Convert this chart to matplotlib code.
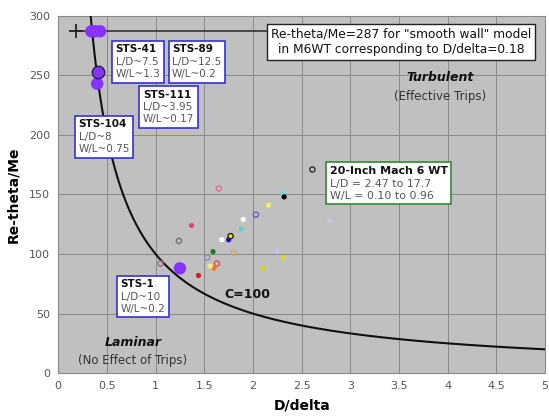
import numpy as np
import matplotlib.pyplot as plt
from matplotlib.offsetbox import TextArea, VPacker, AnnotationBbox

# C=100 transition curve: Re-theta/Me = C / (D/delta)
curve_c = 100
curve_x = np.linspace(0.333, 5.0, 400)

# flight data (STS), big purple dots
sts_x = [0.34, 0.38, 0.43, 0.40, 1.25]
sts_y = [287, 287, 287, 243, 88]
sts_edge_x = [0.41]
sts_edge_y = [253]

# smooth wall reference point
ref_x = [0.18]
ref_y = [287]

# 20-inch Mach 6 WT, filled markers
wt_fill_x = [1.37, 1.59, 1.68, 1.75, 2.31, 2.32, 2.16, 1.90, 1.88, 1.60, 1.56,
             2.10, 1.44, 2.31, 2.25, 2.79]
wt_fill_y = [124, 102, 112, 112, 151, 148, 141, 129, 121, 88, 90,
             88, 82, 97, 102, 128]
wt_fill_c = ['#e0457a', '#1a7a2a', '#ffffff', '#1010d0', '#70d8e8', '#000000',
             '#f0f060', '#ffffff', '#60d0d0', '#f08020', '#f0f080',
             '#c8d820', '#d02020', '#d8d840', '#c8c0f0', '#c8c8e0']

# 20-inch Mach 6 WT, open markers
wt_open_x = [2.61, 1.65, 2.03, 1.77, 1.24, 1.80, 1.53, 1.63, 1.05]
wt_open_y = [171, 155, 133, 115, 111, 101, 97, 92, 92]
wt_open_c = ['#303030', '#e07090', '#6060c0', '#202000', '#707070',
             '#e0a070', '#9090b0', '#e05050', '#a07080']
wt_open_face = ['none', 'none', 'none', '#f0f000', 'none',
                'none', 'none', 'none', 'none']

plt.rcParams['font.family'] = ['DejaVu Sans']
fig = plt.figure(figsize=(5.49, 4.16), dpi=100)
ax = fig.add_axes([0.106, 0.103, 0.887, 0.859])
ax.set_facecolor('#c0c0c0')

ax.plot(curve_x, curve_c / curve_x, color='#111111', lw=1.5, zorder=3)
ax.plot([0.18, 2.2], [287, 287], color='#333333', lw=1.2, zorder=2)
ax.scatter(ref_x, ref_y, marker='+', s=90, color='#222222', lw=1.3, zorder=4)

ax.scatter(wt_fill_x, wt_fill_y, s=14, c=wt_fill_c, edgecolors='none', zorder=4)
ax.scatter(wt_open_x, wt_open_y, s=14, facecolors=wt_open_face,
           edgecolors=wt_open_c, linewidths=1.0, zorder=4)

ax.scatter(sts_x, sts_y, s=80, color='#8833ff', edgecolors='none', zorder=5)
ax.scatter(sts_edge_x, sts_edge_y, s=80, color='#8833ff', edgecolors='#222244',
           linewidths=1.0, zorder=5)

ax.set_xlim(0, 5)
ax.set_ylim(0, 300)
ax.set_xticks(np.arange(0, 5.01, 0.5))
ax.set_xticklabels(['0', '0.5', '1', '1.5', '2', '2.5', '3', '3.5', '4', '4.5', '5'])
ax.set_yticks(np.arange(0, 301, 50))
ax.grid(True, color='#8a8a8a', lw=0.7)
ax.set_axisbelow(True)
ax.tick_params(length=0, labelsize=8, labelcolor='#555555', pad=6)
for s in ax.spines.values():
    s.set_color('#888888')

ax.set_xlabel('D/delta', fontsize=10, fontweight='bold', labelpad=5)
ax.set_ylabel('Re-theta/Me', fontsize=10, fontweight='bold', labelpad=6)


def info_box(x, y, title, lines, edge='#3333cc', fs=7.5):
    head = TextArea(title, textprops=dict(fontsize=fs, fontweight='bold',
                                          color='#111111'))
    body = TextArea('\n'.join(lines), textprops=dict(fontsize=fs, color='#555555',
                                                     linespacing=1.25))
    pack = VPacker(children=[head, body], align='left', pad=0, sep=2)
    ab = AnnotationBbox(pack, (x, y), box_alignment=(0, 1), frameon=True,
                        pad=0.25, zorder=6,
                        bboxprops=dict(boxstyle='square,pad=0.25', fc='white',
                                       ec=edge, lw=1.2))
    ax.add_artist(ab)


info_box(0.59, 276, 'STS-41', ['L/D~7.5', 'W/L~1.3'])
info_box(1.17, 276, 'STS-89', ['L/D~12.5', 'W/L~0.2'])
info_box(0.87, 238, 'STS-111', ['L/D~3.95', 'W/L~0.17'])
info_box(0.21, 213, 'STS-104', ['L/D~8', 'W/L~0.75'])
info_box(0.64, 79, 'STS-1', ['L/D~10', 'W/L~0.2'])
info_box(2.79, 174, '20-Inch Mach 6 WT', ['L/D = 2.47 to 17.7', 'W/L = 0.10 to 0.96'],
         edge='#338833', fs=7.9)

ax.text(3.52, 278, 'Re-theta/Me=287 for "smooth wall" model\nin M6WT corresponding to D/delta=0.18',
        fontsize=8.8, ha='center', va='center', color='#111111', linespacing=1.25, zorder=6,
        bbox=dict(boxstyle='square,pad=0.3', fc='white', ec='#222222', lw=1.0))

ax.text(3.92, 248, 'Turbulent', fontsize=9, fontweight='bold', style='italic',
        ha='center', va='center', color='#111111')
ax.text(3.92, 232, '(Effective Trips)', fontsize=8.5, ha='center', va='center',
        color='#333333')
ax.text(0.77, 26, 'Laminar', fontsize=9, fontweight='bold', style='italic',
        ha='center', va='center', color='#111111')
ax.text(0.76, 11, '(No Effect of Trips)', fontsize=8.5, ha='center', va='center',
        color='#333333')
ax.text(1.94, 66, 'C=100', fontsize=9, fontweight='bold', ha='center', va='center',
        color='#111111')

fig.savefig('out.png', dpi=100)
